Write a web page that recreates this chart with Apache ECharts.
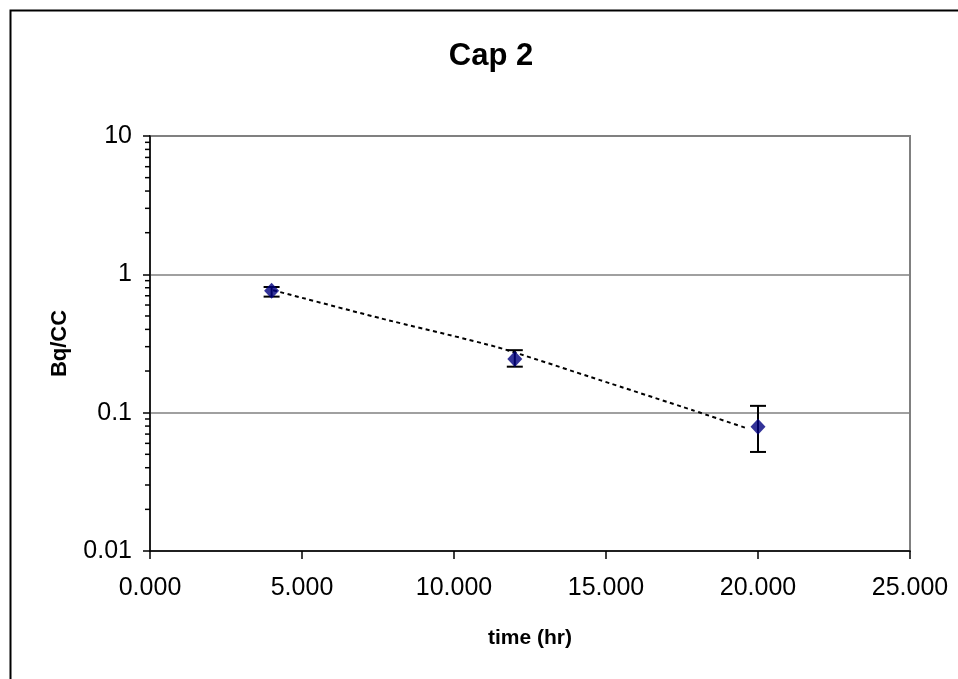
<!DOCTYPE html>
<html>
<head>
<meta charset="utf-8">
<script src="https://cdn.jsdelivr.net/npm/echarts@6/dist/echarts.min.js"></script>
<style>
  html, body { margin: 0; padding: 0; background: #fff; }
  #chart { width: 958px; height: 679px; }
</style>
</head>
<body>
<div id="chart"></div>
<script>
// measured points
const timeHr = [4, 12, 20]
const bqcc = [0.76, 0.244, 0.079]
const errLow = [0.69, 0.215, 0.052]
const errHigh = [0.81, 0.283, 0.112]

// dotted trend line
const trendX = [4.05, 7.57, 11.41, 14.8, 17.83, 19.6]
const trendY = [0.767, 0.482, 0.298, 0.172, 0.1045, 0.0776]

// minor ticks of the log axis
const minorTickValues = [
  0.02, 0.03, 0.04, 0.05, 0.06, 0.07, 0.08, 0.09,
  0.2, 0.3, 0.4, 0.5, 0.6, 0.7, 0.8, 0.9,
  2, 3, 4, 5, 6, 7, 8, 9
]

const xTickLabels = ['0.000', '5.000', '10.000', '15.000', '20.000', '25.000']

const font = '"Liberation Sans", Arial, sans-serif'
const chart = echarts.init(document.getElementById('chart'))

const option = {
  animation: false,
  backgroundColor: '#fff',
  title: {
    text: 'Cap 2',
    left: 486,
    top: 36,
    textAlign: 'center',
    textStyle: { fontFamily: font, fontSize: 31, fontWeight: 'bold', color: '#000' }
  },
  graphic: [
    {
      type: 'rect',
      left: 8,
      top: 8,
      shape: { width: 1000, height: 700 },
      style: { fill: 'none', stroke: '#000', lineWidth: 2 },
      silent: true
    }
  ],
  grid: {
    left: 150,
    right: 48,
    top: 136,
    bottom: 128,
    show: true,
    borderColor: '#808080',
    borderWidth: 2
  },
  xAxis: {
    type: 'value',
    min: 0,
    max: 25,
    interval: 5,
    name: 'time (hr)',
    nameLocation: 'middle',
    nameGap: 77,
    nameTextStyle: { fontFamily: font, fontSize: 21, fontWeight: 'bold', color: '#000' },
    axisLine: { onZero: false, lineStyle: { color: '#000', width: 1.5 } },
    axisTick: { show: true, length: 8, lineStyle: { color: '#000', width: 1.5 } },
    axisLabel: {
      margin: 25,
      fontFamily: font,
      fontSize: 25,
      color: '#000',
      formatter: (v) => xTickLabels[Math.round(v / 5)]
    },
    splitLine: { show: false }
  },
  yAxis: {
    type: 'log',
    logBase: 10,
    min: 0.01,
    max: 10,
    name: 'Bq/CC',
    nameLocation: 'middle',
    nameGap: 79,
    nameTextStyle: { fontFamily: font, fontSize: 22, fontWeight: 'bold', color: '#000' },
    axisLine: { show: true, lineStyle: { color: '#000', width: 1.5 } },
    axisTick: { show: true, length: 7, lineStyle: { color: '#000', width: 1.5 } },
    axisLabel: {
      margin: 18,
      fontFamily: font,
      fontSize: 25,
      color: '#000',
      formatter: (v) => String(+v.toPrecision(2))
    },
    splitLine: { show: true, lineStyle: { color: '#808080', width: 1.5 } }
  },
  series: [
    {
      // minor ticks on the y axis
      type: 'custom',
      silent: true,
      clip: false,
      data: minorTickValues,
      renderItem: (params, api) => {
        const p = api.coord([0, api.value(0)])
        return {
          type: 'line',
          shape: { x1: p[0] - 5, y1: p[1], x2: p[0], y2: p[1] },
          style: { stroke: '#000', lineWidth: 1.5 }
        }
      },
      encode: { y: 0 },
      z: 1
    },
    {
      type: 'line',
      data: trendX.map((x, i) => [x, trendY[i]]),
      smooth: 0.2,
      symbol: 'none',
      silent: true,
      lineStyle: { color: '#000', width: 2, type: [4, 3.5] },
      z: 2
    },
    {
      // error bars
      type: 'custom',
      silent: true,
      data: timeHr.map((x, i) => [x, errLow[i], errHigh[i]]),
      renderItem: (params, api) => {
        const lo = api.coord([api.value(0), api.value(1)])
        const hi = api.coord([api.value(0), api.value(2)])
        const w = 8
        const st = { stroke: '#000', lineWidth: 2 }
        return {
          type: 'group',
          children: [
            { type: 'line', shape: { x1: lo[0], y1: lo[1], x2: hi[0], y2: hi[1] }, style: st },
            { type: 'line', shape: { x1: lo[0] - w, y1: lo[1], x2: lo[0] + w, y2: lo[1] }, style: st },
            { type: 'line', shape: { x1: hi[0] - w, y1: hi[1], x2: hi[0] + w, y2: hi[1] }, style: st }
          ]
        }
      },
      encode: { x: 0, y: [1, 2] },
      z: 3
    },
    {
      type: 'scatter',
      data: timeHr.map((x, i) => [x, bqcc[i]]),
      symbol: 'diamond',
      symbolSize: [15, 16],
      itemStyle: { color: '#000080' },
      z: 4
    }
  ]
}

chart.setOption(option)
</script>
</body>
</html>
